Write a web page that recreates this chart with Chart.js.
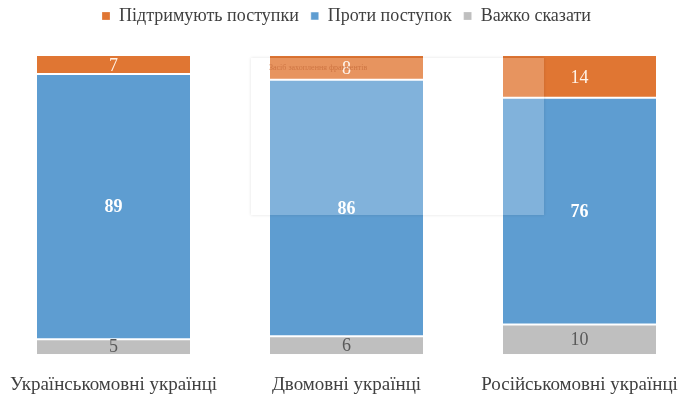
<!DOCTYPE html>
<html>
<head>
<meta charset="utf-8">
<script src="https://cdn.jsdelivr.net/npm/chart.js@4/dist/chart.umd.min.js"></script>
<style>
  html, body { margin: 0; padding: 0; background: #fff; overflow: hidden; }
  #wrap { position: absolute; left: -3px; top: 0; width: 699px; height: 398px; }
  #snip {
    position: absolute; left: 251px; top: 58px; width: 293px; height: 157px;
    background: rgba(255, 255, 255, 0.22);
    box-shadow: 0 0 3px rgba(0, 0, 0, 0.12);
    font: 8px "Liberation Serif", serif; color: rgba(200, 110, 60, 0.8);
  }
  #snip span { position: absolute; left: 18px; top: 5px; }
</style>
</head>
<body>
<div id="wrap"><canvas id="chart"></canvas></div>
<div id="snip"><span>Засіб захоплення фрагментів</span></div>
<script>
const categories = ["Українськомовні українці", "Двомовні українці", "Російськомовні українці"]
const hardToSay = [5, 6, 10]
const against = [89, 86, 76]
const support = [7, 8, 14]

const serif = "'Liberation Serif', 'Times New Roman', serif"

// draw the value inside each stacked segment
const segmentLabels = {
    id: "segmentLabels",
    afterDatasetsDraw(chart) {
        const { ctx, chartArea } = chart
        chart.data.datasets.forEach((ds, i) => {
            const meta = chart.getDatasetMeta(i)
            meta.data.forEach((bar, j) => {
                const top = Math.max(bar.y, chartArea.top)
                const mid = (top + bar.base) / 2
                ctx.save()
                ctx.font = (ds.labelBold ? "bold " : "") + "18px " + serif
                ctx.fillStyle = ds.labelColor
                ctx.textAlign = "center"
                ctx.textBaseline = "middle"
                ctx.fillText(ds.data[j], bar.x, mid + 1)
                ctx.restore()
            })
        })
    },
}

// extra room under the legend
const legendSpace = {
    id: "legendSpace",
    beforeInit(chart) {
        const fit = chart.legend.fit
        chart.legend.fit = function () {
            fit.bind(chart.legend)()
            this.height += 21
        }
    },
}

new Chart(document.getElementById("chart"), {
    type: "bar",
    data: {
        labels: categories,
        datasets: [
            {
                label: "Важко сказати",
                data: hardToSay,
                backgroundColor: "#BFBFBF",
                borderColor: "#ffffff",
                borderWidth: { top: 1, bottom: 0, left: 0, right: 0 },
                borderSkipped: false,
                labelColor: "#595959",
            },
            {
                label: "Проти поступок",
                data: against,
                backgroundColor: "#5E9DD1",
                borderColor: "#ffffff",
                borderWidth: { top: 1, bottom: 1, left: 0, right: 0 },
                borderSkipped: false,
                labelColor: "#ffffff",
                labelBold: true,
            },
            {
                label: "Підтримують поступки",
                data: support,
                backgroundColor: "#E07633",
                borderColor: "#ffffff",
                borderWidth: { top: 0, bottom: 1, left: 0, right: 0 },
                borderSkipped: false,
                labelColor: "#FFF3E8",
            },
        ],
    },
    options: {
        responsive: true,
        maintainAspectRatio: false,
        animation: false,
        layout: { padding: { top: -5, bottom: -9, left: 0, right: 0 } },
        datasets: {
            bar: { categoryPercentage: 1, barPercentage: 0.657 },
        },
        plugins: {
            legend: {
                position: "top",
                reverse: true,
                labels: {
                    boxWidth: 8,
                    boxHeight: 8,
                    padding: 12,
                    color: "#404040",
                    font: { family: serif, size: 18 },
                },
            },
            tooltip: { enabled: false },
        },
        scales: {
            x: {
                stacked: true,
                grid: { display: false },
                border: { display: false },
                ticks: {
                    color: "#404040",
                    font: { family: serif, size: 19 },
                    padding: 11,
                    maxRotation: 0,
                    autoSkip: false,
                },
            },
            y: {
                stacked: true,
                display: false,
                min: 0,
                max: 100,
            },
        },
    },
    plugins: [segmentLabels, legendSpace],
})
</script>
</body>
</html>
